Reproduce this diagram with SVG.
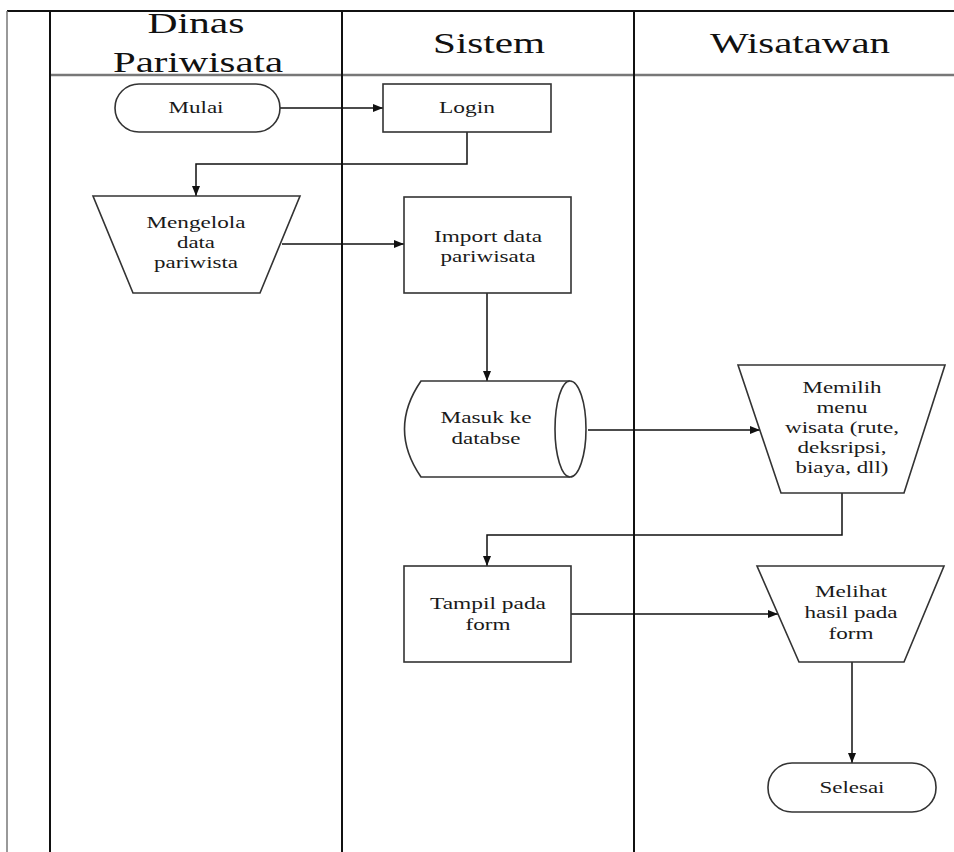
<svg xmlns="http://www.w3.org/2000/svg" width="954" height="852" viewBox="0 0 954 852">
<style>
.lane{stroke:#111;stroke-width:2;fill:none}
.laneg{stroke:#777;stroke-width:2.5;fill:none}
.shape{fill:#fff;stroke:#333;stroke-width:1.6}
.con{fill:none;stroke:#111;stroke-width:1.5}
.hd{font-family:"Liberation Serif","Times New Roman",serif;font-size:30px;fill:#111;text-anchor:middle}
.tx{font-family:"Liberation Serif","Times New Roman",serif;font-size:16px;fill:#1a1a1a;text-anchor:middle}
</style>
<defs>
<marker id="arr" markerUnits="userSpaceOnUse" markerWidth="11" markerHeight="9" refX="10" refY="4" orient="auto">
<path d="M0,0 L10,4 L0,8 Z" fill="#111"/>
</marker>
</defs>
<rect width="954" height="852" fill="#fff"/>
<g id="lanes">
<line class="lane" x1="7" y1="11" x2="954" y2="11"/>
<line class="laneg" x1="50" y1="75" x2="954" y2="75"/>
<line class="laneg" x1="7" y1="11" x2="7" y2="852" style="stroke-width:1.5"/>
<line class="lane" x1="50" y1="11" x2="50" y2="852"/>
<line class="lane" x1="342" y1="11" x2="342" y2="852"/>
<line class="lane" x1="634" y1="11" x2="634" y2="852"/>
<text class="hd" x="196" y="33" textLength="97" lengthAdjust="spacingAndGlyphs">Dinas</text>
<text class="hd" x="198" y="72" textLength="170" lengthAdjust="spacingAndGlyphs">Pariwisata</text>
<text class="hd" x="489" y="53" textLength="112" lengthAdjust="spacingAndGlyphs">Sistem</text>
<text class="hd" x="800" y="53" textLength="180" lengthAdjust="spacingAndGlyphs">Wisatawan</text>
</g>
<g id="connectors">
<path class="con" d="M280 108 H383" marker-end="url(#arr)"/>
<path class="con" d="M467 132 V164 H196 V196" marker-end="url(#arr)"/>
<path class="con" d="M282 244 H404" marker-end="url(#arr)"/>
<path class="con" d="M487 293 V381" marker-end="url(#arr)"/>
<path class="con" d="M588 430 H760" marker-end="url(#arr)"/>
<path class="con" d="M842 493 V535 H487 V566" marker-end="url(#arr)"/>
<path class="con" d="M571 614 H778" marker-end="url(#arr)"/>
<path class="con" d="M852 662 V763" marker-end="url(#arr)"/>
</g>
<g id="mulai">
<rect class="shape" x="115" y="84" width="165" height="48" rx="24"/>
<text class="tx" x="196" y="113" textLength="55" lengthAdjust="spacingAndGlyphs">Mulai</text>
</g>
<g id="login">
<rect class="shape" x="383" y="84" width="168" height="48"/>
<text class="tx" x="467" y="113" textLength="56" lengthAdjust="spacingAndGlyphs">Login</text>
</g>
<g id="mengelola">
<polygon class="shape" points="93,196 300,196 260,293 133,293"/>
<text class="tx" x="196" y="228" textLength="99" lengthAdjust="spacingAndGlyphs">Mengelola</text>
<text class="tx" x="196" y="248" textLength="38" lengthAdjust="spacingAndGlyphs">data</text>
<text class="tx" x="196" y="268" textLength="84" lengthAdjust="spacingAndGlyphs">pariwista</text>
</g>
<g id="import">
<rect class="shape" x="404" y="197" width="167" height="96"/>
<text class="tx" x="488" y="242" textLength="108" lengthAdjust="spacingAndGlyphs">Import data</text>
<text class="tx" x="488" y="262" textLength="95" lengthAdjust="spacingAndGlyphs">pariwisata</text>
</g>
<g id="database">
<path class="shape" d="M421 381 H570 A16 48 0 0 1 570 477 H421 Q388 429 421 381 Z"/>
<path class="shape" d="M570 381 A15 48 0 0 0 570 477" fill="none"/>
<text class="tx" x="486" y="423" textLength="91" lengthAdjust="spacingAndGlyphs">Masuk ke</text>
<text class="tx" x="486" y="444" textLength="69" lengthAdjust="spacingAndGlyphs">databse</text>
</g>
<g id="memilih">
<polygon class="shape" points="738,365 945,365 904,493 781,493"/>
<text class="tx" x="842" y="393" textLength="79" lengthAdjust="spacingAndGlyphs">Memilih</text>
<text class="tx" x="842" y="413" textLength="51" lengthAdjust="spacingAndGlyphs">menu</text>
<text class="tx" x="842" y="433" textLength="114" lengthAdjust="spacingAndGlyphs">wisata (rute,</text>
<text class="tx" x="842" y="453" textLength="89" lengthAdjust="spacingAndGlyphs">deksripsi,</text>
<text class="tx" x="842" y="473" textLength="93" lengthAdjust="spacingAndGlyphs">biaya, dll)</text>
</g>
<g id="tampil">
<rect class="shape" x="404" y="566" width="167" height="96"/>
<text class="tx" x="488" y="609" textLength="116" lengthAdjust="spacingAndGlyphs">Tampil pada</text>
<text class="tx" x="488" y="630" textLength="45" lengthAdjust="spacingAndGlyphs">form</text>
</g>
<g id="melihat">
<polygon class="shape" points="757,566 944,566 904,662 799,662"/>
<text class="tx" x="851" y="597" textLength="72" lengthAdjust="spacingAndGlyphs">Melihat</text>
<text class="tx" x="851" y="618" textLength="93" lengthAdjust="spacingAndGlyphs">hasil pada</text>
<text class="tx" x="851" y="639" textLength="45" lengthAdjust="spacingAndGlyphs">form</text>
</g>
<g id="selesai">
<rect class="shape" x="768" y="763" width="168" height="49" rx="24"/>
<text class="tx" x="852" y="793" textLength="65" lengthAdjust="spacingAndGlyphs">Selesai</text>
</g>
</svg>
